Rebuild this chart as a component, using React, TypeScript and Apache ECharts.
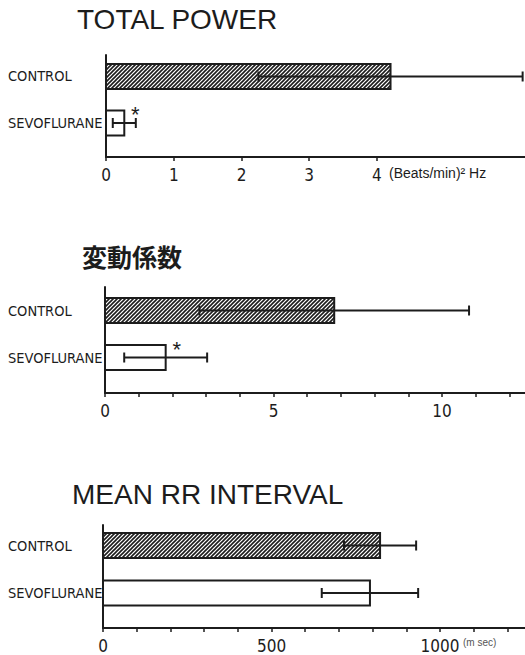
import React, { useEffect, useRef } from 'react';
import * as echarts from 'echarts';

// ---------- data ----------
const categories = ['CONTROL', 'SEVOFLURANE'];

const totalPowerMean = [4.2, 0.27];
const totalPowerSD = [1.95, 0.17];
const totalPowerSignificant = [false, true];
const totalPowerTicks = [0, 1, 2, 3, 4];
const totalPowerLabels = [0, 1, 2, 3, 4];

const cvMean = [6.8, 1.8];
const cvSD = [4.0, 1.23];
const cvSignificant = [false, true];
const cvTicks = [0, 1, 2, 3, 4, 5, 6, 7, 8, 9, 10, 11, 12];
const cvLabels = [0, 5, 10];

const rrMean = [822, 792];
const rrSD = [107, 143];
const rrSignificant = [false, false];
const rrTicks = [0, 100, 200, 300, 400, 500, 600, 700, 800, 900, 1000, 1100, 1200];
const rrLabels = [0, 500, 1000];

const titles = ['TOTAL POWER', '変動係数', 'MEAN RR INTERVAL'];
const units = ['(Beats/min)\u00B2 Hz', '', '(m sec)'];

// ---------- layout / style ----------
const INK = '#1c1c1c';
const NARROW = "'Liberation Sans Narrow', 'DejaVu Sans Condensed', 'Arial Narrow', 'Roboto Condensed', sans-serif";
const SANS = "'Liberation Sans', Arial, Helvetica, sans-serif";
const hatched = [true, false];
const BAR_H = 25;
const CAP_H = 10;

const layout = [
  { left: 106, top: 55, bottom: 157, xMax: 6.185, yMin: -0.462, yMax: 1.731,
    title: { x: 77, y: 20, size: 28, weight: 'normal', font: SANS },
    unit: { x: 389, y: 174, size: 14, color: INK } },
  { left: 105, top: 287, bottom: 393, xMax: 12.46, yMin: -0.5, yMax: 1.755,
    title: { x: 82, y: 257, size: 25, weight: 'bold', font: "'Noto Sans CJK JP', sans-serif" },
    unit: null },
  { left: 103, top: 525, bottom: 628, xMax: 1252, yMin: -0.432, yMax: 1.737,
    title: { x: 72, y: 495, size: 28, weight: 'normal', font: SANS },
    unit: { x: 463, y: 643, size: 10, color: '#555' } },
];

const panels = [
  { mean: totalPowerMean, sd: totalPowerSD, sig: totalPowerSignificant, ticks: totalPowerTicks, labels: totalPowerLabels },
  { mean: cvMean, sd: cvSD, sig: cvSignificant, ticks: cvTicks, labels: cvLabels },
  { mean: rrMean, sd: rrSD, sig: rrSignificant, ticks: rrTicks, labels: rrLabels },
];

function makeHatch() {
  const s = 4;
  const c = document.createElement('canvas');
  c.width = s;
  c.height = s;
  const ctx = c.getContext('2d')!;
  ctx.fillStyle = '#ffffff';
  ctx.fillRect(0, 0, s, s);
  ctx.strokeStyle = INK;
  ctx.lineWidth = 1.6;
  ctx.beginPath();
  ctx.moveTo(0, s); ctx.lineTo(s, 0);
  ctx.moveTo(-1, 1); ctx.lineTo(1, -1);
  ctx.moveTo(s - 1, s + 1); ctx.lineTo(s + 1, s - 1);
  ctx.stroke();
  return c;
}

export default function App() {
  const ref = useRef<HTMLDivElement>(null);

  useEffect(() => {
    if (!ref.current) return;
    const chart = echarts.init(ref.current, null, { renderer: 'svg' });
    const hatch = makeHatch();

    const grid: any[] = [];
    const xAxis: any[] = [];
    const yAxis: any[] = [];
    const series: any[] = [];
    const graphic: any[] = [];

    panels.forEach((p, k) => {
      const L = layout[k];
      grid.push({ left: L.left, top: L.top, width: 525 - L.left, height: L.bottom - L.top });
      xAxis.push({
        type: 'value', gridIndex: k, min: 0, max: L.xMax,
        axisLine: { show: true, onZero: false, lineStyle: { color: INK, width: 2 } },
        axisTick: { show: true, customValues: p.ticks, length: 4, lineStyle: { color: INK, width: 1.5 } },
        axisLabel: {
          customValues: p.labels, margin: 9, fontSize: 17, color: INK, fontFamily: NARROW,
          formatter: (v: number) => String(v),
        },
        splitLine: { show: false },
      });
      yAxis.push({
        type: 'value', gridIndex: k, inverse: true, min: L.yMin, max: L.yMax,
        axisLine: { show: true, onZero: false, lineStyle: { color: INK, width: 2 } },
        axisTick: { show: false },
        axisLabel: {
          customValues: [0, 1],
          formatter: (v: number) => categories[Math.round(v)] ?? '',
          align: 'left', margin: L.left - 8, fontSize: 14.5, color: INK, fontFamily: NARROW,
        },
        splitLine: { show: false },
      });
      series.push({
        type: 'custom', xAxisIndex: k, yAxisIndex: k, silent: true, clip: false,
        data: categories.map((_, i) => [p.mean[i], p.sd[i], i, p.sig[i] ? 1 : 0]),
        encode: { x: 0, y: 2 },
        renderItem: (params: any, api: any) => {
          const mean = api.value(0);
          const sd = api.value(1);
          const row = api.value(2);
          const sig = api.value(3);
          const base = api.coord([0, row]);
          const end = api.coord([mean, row]);
          const lo = api.coord([mean - sd, row]);
          const hi = api.coord([mean + sd, row]);
          const cy = base[1];
          const top = cy - BAR_H / 2;
          const children: any[] = [
            {
              type: 'rect',
              shape: { x: base[0], y: top, width: end[0] - base[0], height: BAR_H },
              style: {
                fill: hatched[row] ? { image: hatch, repeat: 'repeat' } : '#ffffff',
                stroke: INK, lineWidth: 2,
              },
            },
            { type: 'line', shape: { x1: lo[0], y1: cy, x2: hi[0], y2: cy }, style: { stroke: INK, lineWidth: 2 } },
            { type: 'line', shape: { x1: lo[0], y1: cy - CAP_H / 2, x2: lo[0], y2: cy + CAP_H / 2 }, style: { stroke: INK, lineWidth: 2 } },
            { type: 'line', shape: { x1: hi[0], y1: cy - CAP_H / 2, x2: hi[0], y2: cy + CAP_H / 2 }, style: { stroke: INK, lineWidth: 2 } },
          ];
          if (sig) {
            children.push({
              type: 'text',
              style: {
                x: end[0] + 11, y: top + 4, text: '*', fontSize: 22, fill: INK,
                align: 'center', verticalAlign: 'middle', fontFamily: SANS,
              },
            });
          }
          return { type: 'group', children };
        },
      });
      graphic.push({
        type: 'text', left: L.title.x, top: L.title.y - L.title.size / 2 - 1,
        style: {
          text: titles[k], fontSize: L.title.size, fontWeight: L.title.weight,
          fontFamily: L.title.font, fill: INK,
        },
      });
      if (L.unit && units[k]) {
        graphic.push({
          type: 'text', left: L.unit.x, top: L.unit.y - L.unit.size / 2 - 1,
          style: { text: units[k], fontSize: L.unit.size, fontFamily: SANS, fill: L.unit.color },
        });
      }
    });

    chart.setOption({
      animation: false,
      backgroundColor: '#ffffff',
      grid, xAxis, yAxis, series, graphic,
    });
    return () => chart.dispose();
  }, []);

  return (
    <div
      ref={ref}
      style={{ position: 'fixed', left: 0, top: 0, width: 525, height: 655 }}
    />
  );
}
